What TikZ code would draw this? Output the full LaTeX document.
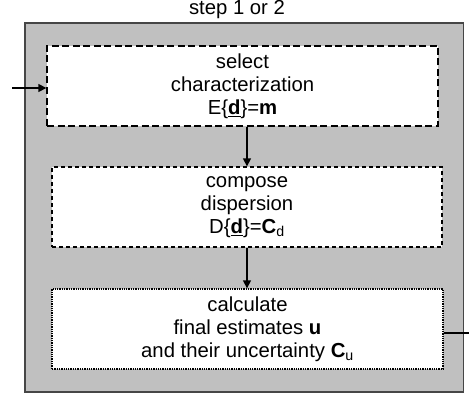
\documentclass[tikz,border=0pt]{standalone}
\usepackage{fontspec}
\setmainfont{Liberation Sans}
\usetikzlibrary{arrows.meta}
\definecolor{panelgray}{RGB}{192,192,192}
\definecolor{edgegray}{RGB}{70,70,70}
\begin{document}
\begin{tikzpicture}[x=1pt,y=-1pt,
  txt/.style={font=\fontsize{20.3}{23}\selectfont},
  stepbox/.style={txt,draw=black,fill=white,line width=1.3pt,align=center,
    minimum width=391pt,minimum height=80pt,inner sep=0pt},
  conn/.style={line width=1.3pt,-{Triangle[length=8pt,width=8pt]}},
  plainline/.style={line width=1.3pt}]
\useasboundingbox (0,0) rectangle (469,396);
\node[txt] (title) at (237,10) {step 1 or 2};
\draw[fill=panelgray,draw=edgegray,line width=1.4pt] (25,23) rectangle (463.5,392);
\node[stepbox,dash pattern=on 7pt off 3.5pt] (b1) at (242.5,86)
  {select\\characterization\\E\{\underline{\textbf{d}}\}=\textbf{m}};
\node[stepbox,dash pattern=on 4pt off 3pt,minimum width=390pt] (b2) at (247,207)
  {compose\\dispersion\\D\{\underline{\textbf{d}}\}=\textbf{C}\textsubscript{d}};
\node[stepbox,dash pattern=on 1.3pt off 1pt] (b3) at (247.5,329)
  {calculate\\final estimates \textbf{u}\\and their uncertainty \textbf{C}\textsubscript{u}};
\coordinate (ax) at (247,0);
\coordinate (in) at (12,88);
\coordinate (out) at (469,333);
\draw[conn] (in) -- (in -| b1.west);
\draw[conn] (b1.south -| ax) -- (b2.north -| ax);
\draw[conn] (b2.south -| ax) -- (b3.north -| ax);
\draw[plainline] (out -| b3.east) -- (out);
\end{tikzpicture}
\end{document}
